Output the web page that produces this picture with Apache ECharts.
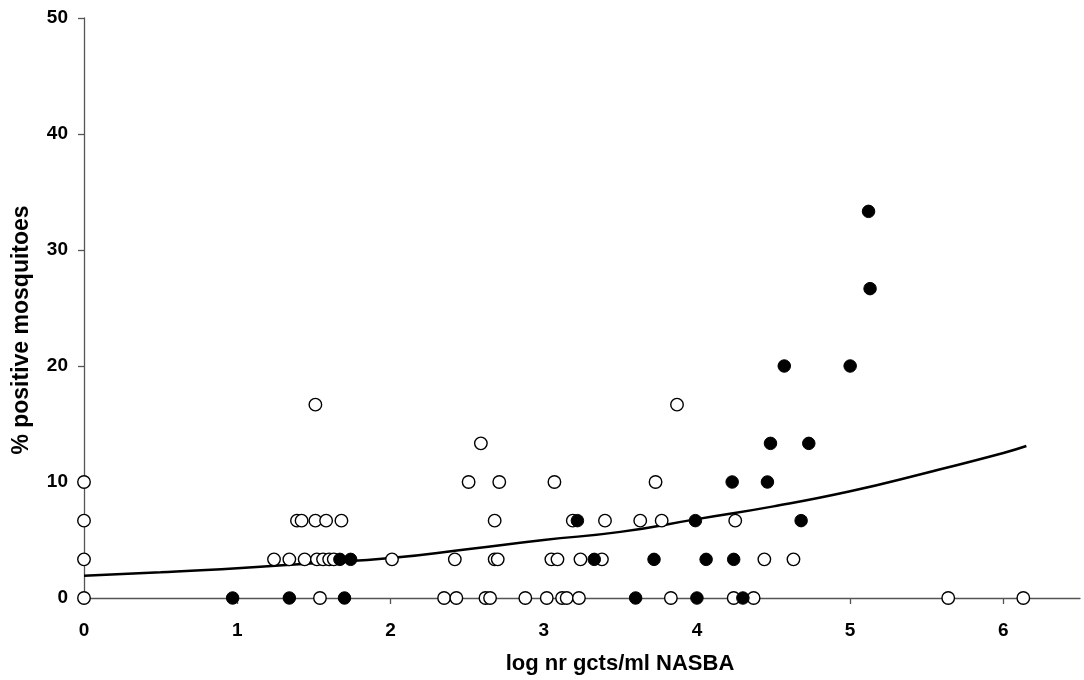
<!DOCTYPE html>
<html>
<head>
<meta charset="utf-8">
<script src="https://cdn.jsdelivr.net/npm/echarts@6/dist/echarts.min.js"></script>
<style>
html,body{margin:0;padding:0;background:#fff;}
#chart{width:1084px;height:680px;}
</style>
</head>
<body>
<div id="chart"></div>
<script>
// Open circles (x = log nr gcts/ml NASBA, y = % positive mosquitoes)
var openX = [0, 1.54, 2.35, 2.43, 2.62, 2.65, 2.88, 3.02, 3.12, 3.15, 3.23, 3.83, 4.24, 4.37, 5.64, 6.13,
             0, 1.24, 1.34, 1.44, 1.52, 1.56, 1.60, 1.63, 2.01, 2.42, 2.68, 2.70, 3.05, 3.09, 3.24, 3.38, 4.44, 4.63,
             0, 1.39, 1.42, 1.51, 1.58, 1.68, 2.68, 3.19, 3.40, 3.63, 3.77, 4.25,
             0, 2.51, 2.71, 3.07, 3.73,
             2.59,
             1.51, 3.87];
var openY = [0, 0, 0, 0, 0, 0, 0, 0, 0, 0, 0, 0, 0, 0, 0, 0,
             3.33, 3.33, 3.33, 3.33, 3.33, 3.33, 3.33, 3.33, 3.33, 3.33, 3.33, 3.33, 3.33, 3.33, 3.33, 3.33, 3.33, 3.33,
             6.67, 6.67, 6.67, 6.67, 6.67, 6.67, 6.67, 6.67, 6.67, 6.67, 6.67, 6.67,
             10, 10, 10, 10, 10,
             13.33,
             16.67, 16.67];
// Filled circles
var filledX = [0.97, 1.34, 1.70, 3.60, 4.00, 4.30,
               1.67, 1.74, 3.33, 3.72, 4.06, 4.24,
               3.22, 3.99, 4.68,
               4.23, 4.46,
               4.48, 4.73,
               4.57, 5.00,
               5.13,
               5.12];
var filledY = [0, 0, 0, 0, 0, 0,
               3.33, 3.33, 3.33, 3.33, 3.33, 3.33,
               6.67, 6.67, 6.67,
               10, 10,
               13.33, 13.33,
               20, 20,
               26.67,
               33.33];
// Fitted curve
var curveX = [0, 0.5, 1, 1.5, 2, 2.5, 3, 3.5, 4, 4.5, 5, 5.5, 6, 6.15];
var curveY = [1.92, 2.21, 2.56, 3.0, 3.44, 4.2, 5.0, 5.7, 6.8, 7.9, 9.2, 10.8, 12.5, 13.1];
// Axis ticks
var xTicks = [0, 1, 2, 3, 4, 5, 6];
var yTicks = [0, 10, 20, 30, 40, 50];

function zip(a, b) { return a.map(function (v, i) { return [v, b[i]]; }); }

var FONT = '"Liberation Sans", Arial, sans-serif';
var chart = echarts.init(document.getElementById('chart'), null, {renderer: 'canvas'});
chart.setOption({
  animation: false,
  backgroundColor: '#ffffff',
  grid: {left: 84, right: 4, top: 18, bottom: 81, containLabel: false},
  xAxis: {
    type: 'value', min: 0, max: 6.5, interval: 1,
    name: 'log nr gcts/ml NASBA', nameLocation: 'middle', nameGap: 55,
    nameTextStyle: {fontFamily: FONT, fontWeight: 'bold', fontSize: 22, color: '#000', padding: [0, 0, 0, 76]},
    axisLine: {show: true, onZero: false, lineStyle: {color: '#555', width: 1.3}},
    axisTick: {show: true, inside: false, length: 6, lineStyle: {color: '#555', width: 1.3}},
    axisLabel: {fontFamily: FONT, fontWeight: 'bold', fontSize: 19, color: '#000', margin: 23,
      showMaxLabel: false,
      formatter: function (v) { return xTicks.indexOf(v) >= 0 ? String(v) : ''; }},
    splitLine: {show: false}
  },
  yAxis: {
    type: 'value', min: 0, max: 50, interval: 10,
    name: '% positive mosquitoes', nameLocation: 'middle', nameGap: 51, nameRotate: 90,
    nameTextStyle: {fontFamily: FONT, fontWeight: 'bold', fontSize: 23, color: '#000', padding: [0, 44, 0, 0]},
    axisLine: {show: true, onZero: false, lineStyle: {color: '#555', width: 1.3}},
    axisTick: {show: true, inside: false, length: 6, lineStyle: {color: '#555', width: 1.3}},
    axisLabel: {fontFamily: FONT, fontWeight: 'bold', fontSize: 19, color: '#000', margin: 16,
      formatter: function (v) { return yTicks.indexOf(v) >= 0 ? String(v) : ''; }},
    splitLine: {show: false}
  },
  series: [
    {
      type: 'line', data: zip(curveX, curveY), smooth: true, showSymbol: false, symbol: 'none',
      lineStyle: {color: '#000', width: 2.5}, z: 1, silent: true
    },
    {
      type: 'scatter', data: zip(openX, openY), symbol: 'circle', symbolSize: 12.5,
      itemStyle: {color: '#fff', borderColor: '#000', borderWidth: 1.4, opacity: 1}, z: 2
    },
    {
      type: 'scatter', data: zip(filledX, filledY), symbol: 'circle', symbolSize: 12.5,
      itemStyle: {color: '#000', borderColor: '#000', borderWidth: 1, opacity: 1}, z: 3
    }
  ]
});
</script>
</body>
</html>
